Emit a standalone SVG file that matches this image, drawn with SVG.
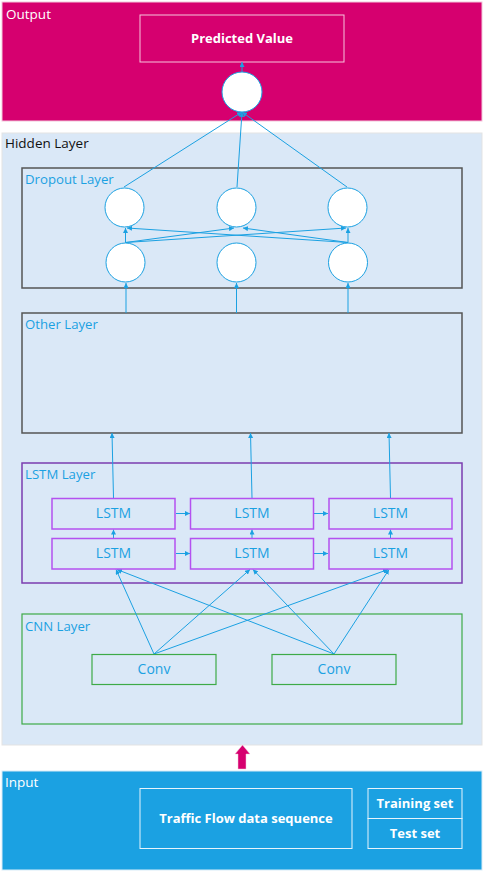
<svg xmlns="http://www.w3.org/2000/svg" width="484" height="872" viewBox="0 0 484 872">
<defs>
<style>
text{font-family:"Open Sans","Noto Sans","Liberation Sans",sans-serif}
.lbl{font-size:13.2px;fill:#1BA1E2}
.blbl{font-size:14px;fill:#1BA1E2}
.wt{fill:#fff}
.bold{font-weight:bold;font-size:13px}
.ctr{text-anchor:middle;dominant-baseline:central}
.circ{fill:#fff;stroke:#1BA1E2;stroke-width:1}
.ln{stroke:#1BA1E2;stroke-width:1;fill:none}
.lnA{stroke:#1BA1E2;stroke-width:1;fill:none;marker-end:url(#ah)}
.lstm{fill:none;stroke:#B451F0;stroke-width:1.5}
.conv{fill:none;stroke:#3EAA47;stroke-width:1.2}
</style>
<marker id="ah" viewBox="0 0 6 6" refX="6" refY="3" markerWidth="5" markerHeight="5" orient="auto" markerUnits="userSpaceOnUse">
<path d="M0,0L6,3L0,6z" fill="#1BA1E2"/>
</marker>
</defs>
<rect x="0" y="0" width="484" height="872" fill="#fff"/>

<g id="output">
<rect x="2" y="2" width="480" height="119" fill="#D6006F" stroke="#F2C6DA" stroke-width="1"/>
<text x="6" y="19" class="wt" font-size="13.5">Output</text>
</g>
<g id="predicted">
<rect x="140" y="15" width="204" height="47" fill="none" stroke="#F6C3DC" stroke-width="1"/>
<text x="242" y="37.5" class="wt bold ctr">Predicted Value</text>
</g>

<g id="hidden">
<rect x="2" y="133" width="480" height="612" fill="#DAE8F7" stroke="#E3E3E3" stroke-width="1"/>
<text x="5" y="148" font-size="13.5" fill="#111">Hidden Layer</text>
</g>

<g id="dropout-layer">
<rect x="22" y="168" width="440" height="120" fill="none" stroke="#555" stroke-width="1.5"/>
<text x="25" y="184" class="lbl">Dropout Layer</text>
</g>
<g id="other-layer">
<rect x="22" y="313" width="440" height="120" fill="none" stroke="#555" stroke-width="1.5"/>
<text x="25" y="329" class="lbl">Other Layer</text>
</g>
<g id="lstm-layer">
<rect x="22" y="463" width="440" height="120" fill="none" stroke="#7B3DB0" stroke-width="1.5"/>
<text x="25" y="479" class="lbl">LSTM Layer</text>
</g>
<g id="cnn-layer">
<rect x="22" y="614" width="440" height="110" fill="none" stroke="#3EAA47" stroke-width="1.2"/>
<text x="25" y="631" class="lbl">CNN Layer</text>
</g>

<g id="connectors">
<line x1="242" y1="72" x2="242" y2="62" class="lnA"/>
<line x1="124" y1="187" x2="242" y2="112" class="lnA"/>
<line x1="237" y1="187" x2="242" y2="112" class="lnA"/>
<line x1="347" y1="187" x2="242" y2="112" class="lnA"/>
<line x1="125.5" y1="242.5" x2="125.5" y2="228" class="lnA"/>
<line x1="125.5" y1="242.5" x2="234" y2="228" class="lnA"/>
<line x1="125.5" y1="242.5" x2="346" y2="228" class="lnA"/>
<line x1="348" y1="242.5" x2="127" y2="228" class="lnA"/>
<line x1="348" y1="242.5" x2="243" y2="228" class="lnA"/>
<line x1="348" y1="242.5" x2="348" y2="228" class="lnA"/>
<line x1="126" y1="313" x2="126" y2="283" class="lnA"/>
<line x1="236.5" y1="313" x2="236.5" y2="283" class="lnA"/>
<line x1="348" y1="313" x2="348" y2="283" class="lnA"/>
<line x1="113.5" y1="498" x2="112" y2="433" class="lnA"/>
<line x1="252" y1="498" x2="250.5" y2="433" class="lnA"/>
<line x1="390.5" y1="498" x2="389" y2="433" class="lnA"/>
<line x1="176" y1="513.5" x2="190" y2="513.5" class="lnA" stroke-width="1.5"/>
<line x1="314" y1="513.5" x2="328" y2="513.5" class="lnA" stroke-width="1.5"/>
<line x1="176" y1="553.5" x2="190" y2="553.5" class="lnA"/>
<line x1="314" y1="553.5" x2="328" y2="553.5" class="lnA"/>
<line x1="113.5" y1="538" x2="113.5" y2="529.5" class="lnA"/>
<line x1="252" y1="538" x2="252" y2="529.5" class="lnA"/>
<line x1="390.5" y1="538" x2="390.5" y2="529.5" class="lnA"/>
<line x1="154" y1="654" x2="116" y2="569.5" class="lnA"/>
<line x1="154" y1="654" x2="250" y2="569.5" class="lnA"/>
<line x1="154" y1="654" x2="388" y2="569.5" class="lnA"/>
<line x1="334" y1="654" x2="117" y2="569.5" class="lnA"/>
<line x1="334" y1="654" x2="253" y2="569.5" class="lnA"/>
<line x1="334" y1="654" x2="389" y2="569.5" class="lnA"/>
<path d="M238,769 L238,754 L235,754 L242.5,745 L250,754 L246,754 L246,769 Z" fill="#D6006F" stroke="#F2C6DA" stroke-width="0.5"/>
<polyline points="368,803 352,818 368,833" fill="none" stroke="#D6006F" stroke-width="1"/>
</g>

<g id="out-circle"><circle cx="242" cy="92" r="20" class="circ"/></g>
<g id="drop-t1"><circle cx="124.5" cy="207.5" r="19.5" class="circ"/></g>
<g id="drop-t2"><circle cx="236.5" cy="207.5" r="19.5" class="circ"/></g>
<g id="drop-t3"><circle cx="347.5" cy="207.5" r="19.5" class="circ"/></g>
<g id="drop-b1"><circle cx="125.5" cy="262.5" r="19.5" class="circ"/></g>
<g id="drop-b2"><circle cx="236.5" cy="262.5" r="19.5" class="circ"/></g>
<g id="drop-b3"><circle cx="348" cy="262.5" r="19.5" class="circ"/></g>

<g id="lstm-t1"><rect x="52" y="498.5" width="123" height="30.5" class="lstm"/><text x="113.5" y="512.7" class="blbl ctr">LSTM</text></g>
<g id="lstm-t2"><rect x="190.5" y="498.5" width="123" height="30.5" class="lstm"/><text x="252" y="512.7" class="blbl ctr">LSTM</text></g>
<g id="lstm-t3"><rect x="329" y="498.5" width="123" height="30.5" class="lstm"/><text x="390.5" y="512.7" class="blbl ctr">LSTM</text></g>
<g id="lstm-b1"><rect x="52" y="538.5" width="123" height="30.5" class="lstm"/><text x="113.5" y="552.7" class="blbl ctr">LSTM</text></g>
<g id="lstm-b2"><rect x="190.5" y="538.5" width="123" height="30.5" class="lstm"/><text x="252" y="552.7" class="blbl ctr">LSTM</text></g>
<g id="lstm-b3"><rect x="329" y="538.5" width="123" height="30.5" class="lstm"/><text x="390.5" y="552.7" class="blbl ctr">LSTM</text></g>

<g id="conv1"><rect x="92" y="654.5" width="124" height="30" class="conv"/><text x="154" y="668.5" class="blbl ctr">Conv</text></g>
<g id="conv2"><rect x="272" y="654.5" width="124" height="30" class="conv"/><text x="334" y="668.5" class="blbl ctr">Conv</text></g>

<g id="input">
<rect x="2" y="771" width="480" height="99" fill="#1BA1E2" stroke="#D8ECF8" stroke-width="1"/>
<text x="5" y="787" class="wt" font-size="13.5">Input</text>
</g>
<g id="traffic">
<rect x="140" y="788.5" width="212" height="60" fill="none" stroke="#E6F4FC" stroke-width="1"/>
<text x="246" y="817.5" class="wt bold ctr">Traffic Flow data sequence</text>
</g>
<g id="training">
<rect x="368" y="788.5" width="94" height="30" fill="none" stroke="#E6F4FC" stroke-width="1"/>
<text x="415" y="802.5" class="wt bold ctr">Training set</text>
</g>
<g id="test">
<rect x="368" y="818.5" width="94" height="30" fill="none" stroke="#E6F4FC" stroke-width="1"/>
<text x="415" y="832.5" class="wt bold ctr">Test set</text>
</g>
</svg>
